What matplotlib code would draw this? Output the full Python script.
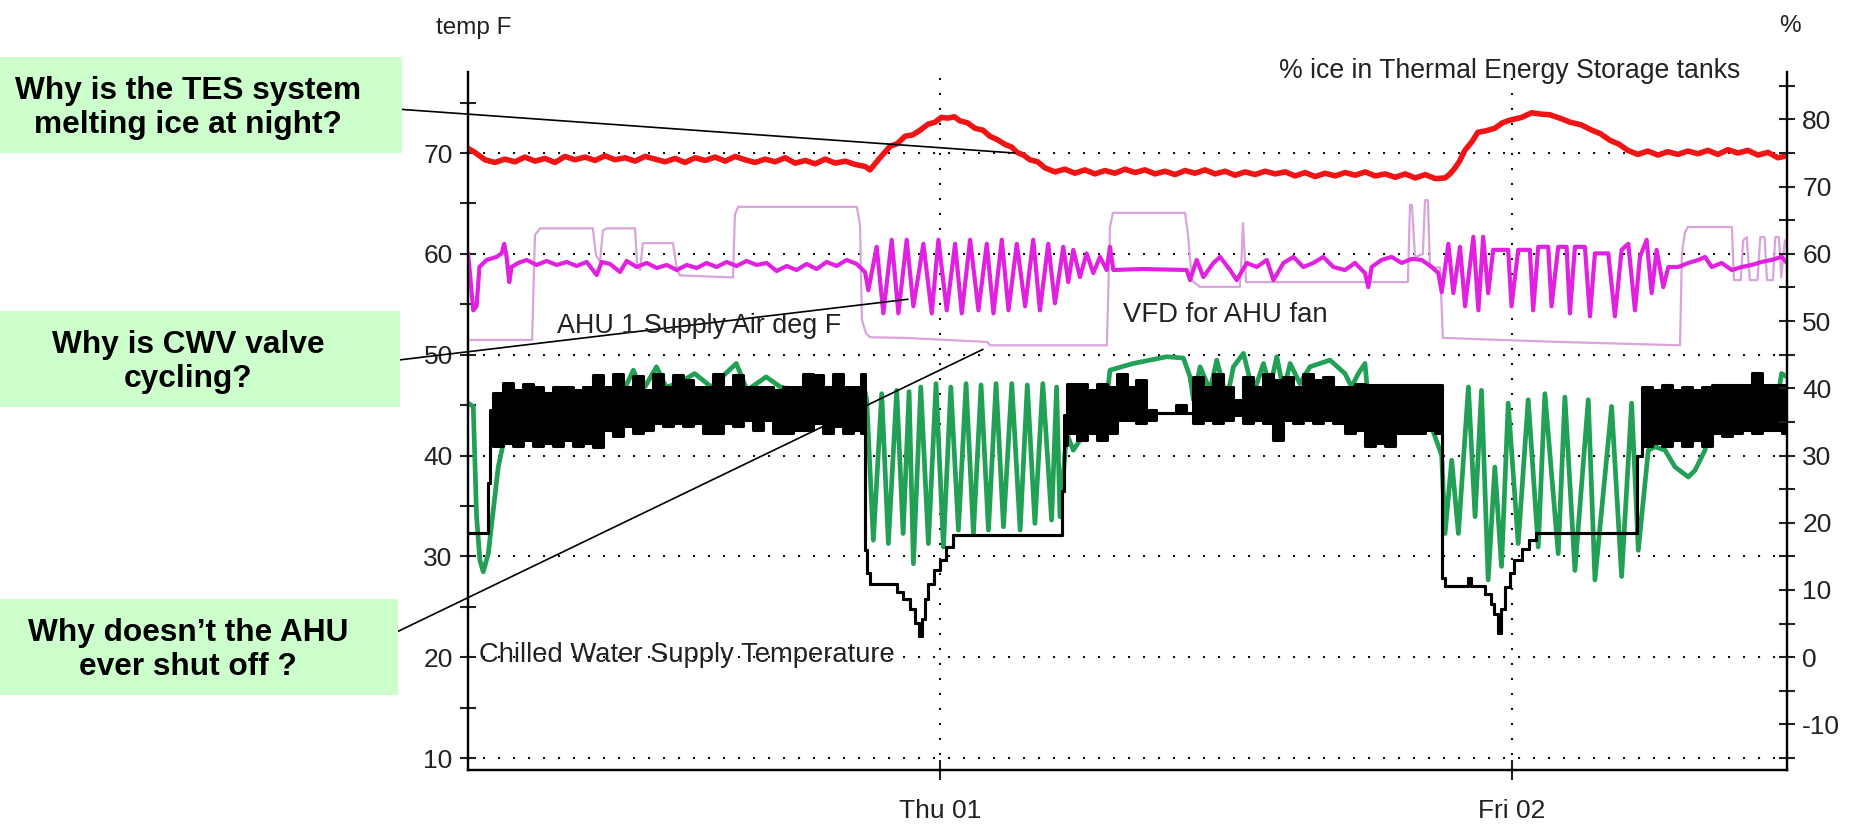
"""
AHU / TES trend log, annotated.
Recreates a BAS trend chart with three question call-outs.
"""

import matplotlib
matplotlib.use('Agg')
import matplotlib.pyplot as plt
from matplotlib.patches import Rectangle
from matplotlib.ticker import FixedLocator

plt.rcParams['font.family'] = ['Liberation Sans', 'DejaVu Sans']
plt.rcParams['axes.unicode_minus'] = False

# ---- data (time = hours since Wed 00:00) ----

# % ice in TES tanks (right axis)
tes_t = [4.19, 4.48, 4.90, 5.32, 5.74, 6.16, 6.58, 7.00, 7.42, 7.84, 8.26, 8.68, 9.10, 9.52, 9.94,
         10.36, 10.78, 11.20, 11.62, 12.04, 12.46, 12.88, 13.30, 13.72, 14.14, 14.56, 14.98, 15.40,
         15.82, 16.24, 16.66, 17.08, 17.50, 17.92, 18.34, 18.76, 19.18, 19.60, 20.02, 20.44, 20.86,
         21.06, 21.48, 21.90, 22.20, 22.53, 22.85, 23.16, 23.50, 23.79, 24.05, 24.33, 24.60, 24.83,
         25.15, 25.46, 25.80, 26.09, 26.40, 26.72, 27.00, 27.23, 27.50, 27.77, 28.10, 28.40, 28.82,
         29.24, 29.66, 30.08, 30.50, 30.92, 31.34, 31.76, 32.18, 32.60, 33.02, 33.44, 33.86, 34.28,
         34.70, 35.12, 35.54, 35.96, 36.38, 36.80, 37.22, 37.64, 38.06, 38.48, 38.90, 39.32, 39.74,
         40.16, 40.58, 41.00, 41.42, 41.84, 42.26, 42.68, 43.10, 43.52, 43.94, 44.36, 44.78, 45.19,
         45.40, 45.61, 45.80, 46.02, 46.30, 46.57, 46.90, 47.28, 47.60, 47.91, 48.40, 48.83, 49.20,
         49.59, 50.00, 50.43, 50.90, 51.35, 51.70, 52.11, 52.50, 52.86, 53.28, 53.70, 54.12, 54.54,
         54.96, 55.38, 55.80, 56.22, 56.64, 57.06, 57.48, 57.90, 58.32, 58.74, 59.16, 59.54]
tes_pct = [75.7, 75.1, 74.0, 73.6, 74.1, 73.7, 74.4, 73.8, 74.2, 73.6, 74.5, 74.0, 74.4, 73.9, 74.6,
           74.0, 74.3, 73.8, 74.5, 74.1, 73.7, 74.2, 73.6, 74.3, 73.9, 74.4, 73.8, 74.5,
           74.0, 73.6, 74.1, 73.7, 74.3, 73.5, 73.9, 73.4, 74.1, 73.5, 73.8, 73.3, 73.0,
           72.5, 74.3, 76.0, 76.4, 77.5, 77.7, 78.4, 79.3, 79.6, 80.3, 80.2, 80.4, 79.8,
           79.5, 78.7, 78.4, 77.5, 77.0, 76.3, 75.9, 75.1, 74.7, 74.0, 73.7, 72.8, 72.2,
           72.6, 72.0, 72.5, 71.9, 72.4, 72.0, 72.6, 72.1, 72.5, 71.9, 72.3, 71.8, 72.4,
           72.0, 72.5, 71.9, 72.3, 71.7, 72.2, 71.8, 72.3, 71.9, 72.2, 71.6, 72.1, 71.5,
           72.0, 71.6, 72.1, 71.7, 72.2, 71.6, 71.9, 71.4, 71.9, 71.3, 71.8, 71.2, 71.3,
           71.9, 72.8, 73.8, 75.4, 76.6, 78.1, 78.3, 78.7, 79.5, 79.9, 80.3, 81.0, 80.8,
           80.7, 80.2, 79.6, 79.2, 78.4, 77.9, 76.9, 76.3, 75.4, 74.8, 75.3, 74.7, 75.2,
           74.8, 75.3, 74.9, 75.4, 74.8, 75.5, 75.0, 75.4, 74.7, 75.1, 74.3, 74.6]

# VFD for AHU fan, % (right axis)
vfd_t = [4.19, 6.88, 7.00, 7.21, 9.43, 9.56, 9.73, 9.85, 10.02, 11.20, 11.28, 11.41, 11.53, 11.74,
         12.79, 12.96, 13.09, 15.31, 15.39, 15.52, 20.51, 20.64, 20.72, 20.89, 21.06, 22.53, 25.97,
         26.10, 31.00, 31.13, 31.25, 34.28, 34.40, 34.57, 34.90, 36.58, 36.66, 36.71, 36.78, 36.84,
         43.63, 43.72, 43.80, 43.93, 44.26, 44.35, 44.47, 44.56, 44.98, 45.10, 47.50, 50.00, 55.05,
         55.13, 55.25, 55.38, 57.23, 57.31, 57.60, 57.70, 57.85, 57.98, 58.30, 58.42, 58.60, 58.70,
         58.95, 59.05, 59.20, 59.30, 59.45, 59.54]
vfd_pct = [47.2, 47.2, 62.8, 63.8, 63.8, 59.8, 58.8, 63.5, 63.8, 63.8, 58.8, 57.6, 61.6, 61.6,
           61.6, 57.6, 56.8, 56.5, 65.8, 67.0, 67.0, 64.3, 50.2, 48.2, 47.6, 47.5, 46.9,
           46.4, 46.4, 64.0, 66.1, 66.1, 63.0, 56.0, 55.1, 55.1, 60.0, 64.6, 60.0, 55.8,
           55.8, 67.3, 67.3, 59.5, 60.0, 68.0, 68.0, 58.0, 58.0, 47.5, 47.2, 46.9, 46.4,
           60.0, 63.1, 64.0, 64.0, 56.1, 56.1, 62.0, 62.5, 56.1, 56.1, 62.5, 62.5, 56.1,
           56.1, 62.5, 62.5, 56.5, 62.0, 62.0]

# AHU 1 supply air, deg F (left axis)
sat_t = [4.19, 4.27, 4.41, 4.55, 4.67, 4.97, 5.39, 5.60, 5.71, 5.81, 5.92, 6.02, 6.30, 6.65, 7.07,
         7.49, 7.91, 8.33, 8.75, 9.17, 9.59, 9.80, 10.15, 10.57, 10.85, 11.27, 11.69, 12.11, 12.53,
         12.95, 13.37, 13.79, 14.20, 14.62, 15.04, 15.46, 15.88, 16.30, 16.72, 17.14, 17.56, 17.98,
         18.40, 18.82, 19.24, 19.66, 20.08, 20.50, 20.85, 20.99,
         21.34, 21.62, 21.97, 22.25, 22.60, 22.88, 23.30, 23.65, 23.93, 24.28, 24.63, 24.91, 25.26,
         25.61, 25.96, 26.24, 26.59, 26.87, 27.22, 27.57, 27.91, 28.19, 28.54, 28.82, 29.17, 29.38,
         29.59, 29.87, 30.15, 30.43, 30.71, 30.99, 31.13, 31.27, 32.50, 34.35, 34.49, 34.77, 35.05,
         35.47, 35.75, 36.17, 36.45, 36.87, 37.29, 37.71, 37.99, 38.41, 38.83, 39.24, 39.66, 40.08,
         40.50, 40.99, 41.41, 41.83, 41.97, 42.11, 42.53, 42.95, 43.37, 43.79, 44.21, 44.63, 44.91,
         45.05, 45.33, 45.54, 45.82, 46.03, 46.38, 46.59, 46.79, 47.00, 47.21, 47.84, 47.98, 48.26,
         48.75, 48.89, 49.10, 49.52, 49.66, 49.94, 50.29, 50.43, 50.64, 51.06, 51.27, 51.48, 52.04,
         52.32, 52.60, 52.88, 53.16, 53.37, 53.65, 53.86, 54.07, 54.35, 54.56, 54.98, 55.40, 55.82,
         56.10, 56.38, 56.80, 57.22, 57.64, 58.06, 58.48, 58.89, 59.31, 59.54]
sat_f = [60.0, 58.1, 54.4, 54.8, 58.7, 59.4, 59.7, 60.05, 61.0, 59.7, 57.2, 58.7, 59.1, 59.4, 58.9,
         59.3, 58.9, 59.2, 58.8, 59.2, 57.9, 59.2, 59.0, 58.2, 59.3, 58.7, 59.1, 58.6, 58.9,
         58.4, 58.9, 58.6, 59.1, 58.7, 59.2, 58.8, 59.3, 58.9, 59.1, 58.3, 58.8, 58.4,
         59.0, 58.5, 59.2, 58.8, 59.4, 59.0, 58.2, 56.4,
         60.7, 54.1, 61.4, 54.1, 61.4, 54.8, 61.0, 54.1, 61.4, 54.4, 61.0, 54.1, 61.4,
         54.4, 61.0, 54.1, 61.4, 54.4, 61.0, 54.8, 61.4, 54.4, 61.0, 55.1, 60.7, 57.2,
         60.4, 57.7, 60.05, 58.1, 59.7, 58.4, 60.7, 58.4, 58.5, 58.4, 57.4, 59.4, 57.7,
         59.1, 59.7, 58.4, 57.4, 59.1, 58.7, 59.4, 57.4, 59.1, 59.7, 58.7, 59.1, 59.7,
         58.7, 58.4, 59.1, 58.1, 56.7, 58.7, 59.4, 59.7, 59.1, 59.5, 59.4, 58.7, 58.1,
         56.2, 61.0, 56.1, 60.7, 54.8, 61.7, 54.4, 61.7, 56.1, 60.4, 60.4, 54.8, 60.4,
         60.4, 54.4, 60.7, 60.7, 54.8, 60.7, 60.7, 54.1, 60.7, 60.7, 53.8, 60.05, 60.05,
         53.8, 60.4, 61.0, 54.4, 59.7, 61.4, 56.1, 60.4, 56.7, 58.7, 58.7, 59.1, 59.4,
         59.7, 58.7, 59.1, 58.4, 58.7, 58.9, 59.2, 59.4, 59.7, 59.1]

# chilled water valve, % (right axis)
cwv_t = [4.19, 4.41, 4.55, 4.69, 4.83, 5.04, 5.25, 5.46, 5.67, 6.50, 8.00, 9.50, 10.50, 11.13,
         11.50, 12.10, 12.50, 13.00, 13.70, 14.40, 15.45, 15.90, 16.70, 17.30, 18.50, 20.00, 20.85,
         20.92, 21.20, 21.55, 21.83, 22.18, 22.45, 22.70, 22.88, 23.19, 23.51, 23.83, 24.14, 24.45,
         24.77, 25.09, 25.40, 25.72, 26.03, 26.35, 26.66, 27.01, 27.36, 27.66, 27.98, 28.31, 28.68,
         28.89, 29.03, 29.31, 29.59, 29.87, 30.43, 30.99, 31.13, 32.11, 32.81, 33.51, 34.21, 34.49,
         34.63, 34.91, 35.33, 35.61, 36.03, 36.31, 36.73, 37.15, 37.57, 37.85, 38.13, 38.41, 38.69,
         39.10, 39.52, 39.94, 40.36, 40.99, 41.27, 41.55, 41.83, 41.97, 42.40, 43.50, 44.50, 45.05,
         45.19, 45.47, 45.75, 46.17, 46.45, 46.72, 47.00, 47.28, 47.56, 47.84, 48.26, 48.68, 49.10,
         49.38, 49.94, 50.22, 50.64, 51.20, 51.48, 52.18, 52.60, 53.02, 53.30, 53.51, 53.72, 54.00,
         54.42, 54.84, 55.40, 55.68, 56.10, 56.24, 57.50, 59.03, 59.31, 59.54]
cwv_pct = [37.8, 37.3, 20.9, 14.4, 12.7, 15.4, 21.9, 28.3, 31.8, 34.5, 35.5, 36.5, 38.0, 42.7,
           39.5, 43.2, 40.2, 40.7, 42.2, 40.2, 43.7, 39.7, 41.7, 40.2, 39.2, 39.2, 39.5,
           38.3, 17.4, 39.2, 16.9, 39.7, 18.4, 39.5, 13.9, 40.2, 16.9, 40.7, 16.4, 40.2,
           18.9, 40.7, 18.4, 40.5, 18.9, 40.7, 19.4, 40.7, 18.9, 40.5, 19.9, 40.7, 20.4,
           40.2, 20.9, 33.3, 30.8, 32.3, 35.3, 38.3, 42.7, 43.7, 44.2, 44.7, 44.5, 41.7,
           38.3, 43.2, 39.7, 44.2, 38.3, 43.2, 45.2, 39.2, 43.7, 40.2, 44.7, 39.7, 43.7,
           40.7, 43.2, 43.7, 44.2, 42.2, 40.2, 42.2, 43.7, 38.3, 35.8, 36.0, 35.5, 30.0,
           18.4, 29.3, 18.4, 40.2, 20.9, 39.7, 11.5, 28.3, 13.5, 37.8, 16.9, 38.3, 16.4,
           39.2, 15.4, 38.7, 12.9, 38.3, 11.5, 37.3, 12.0, 37.8, 15.9, 23.4, 30.8, 31.3,
           30.8, 28.3, 26.8, 27.8, 30.8, 33.3, 35.8, 35.8, 42.2, 41.7]

# chilled water supply temperature, deg F (left axis) - low/high of each log interval
chw_t = [4.19, 5.03, 5.10, 5.25, 5.67, 6.09, 6.51, 6.93, 7.35, 7.77, 8.19, 8.61, 9.03, 9.45, 9.87,
         10.29, 10.71, 11.13, 11.55, 11.97, 12.39, 12.80, 13.22, 13.64, 14.06, 14.48, 14.90, 15.32,
         15.74, 16.16, 16.58, 17.00, 17.42, 17.84, 18.26, 18.68, 19.10, 19.52, 19.94, 20.36, 20.70,
         20.85, 20.93, 21.06, 22.19, 22.45, 22.74, 22.95, 23.12, 23.25, 23.35, 23.50, 23.75, 24.00,
         24.25, 24.55, 29.03, 29.10, 29.20, 29.31, 29.73, 30.15, 30.57, 30.99, 31.41, 31.83, 32.24,
         32.66, 33.08, 33.50, 33.92, 34.34, 34.62, 35.04, 35.46, 35.88, 36.30, 36.72, 37.14, 37.56,
         37.98, 38.40, 38.82, 39.24, 39.66, 40.08, 40.50, 40.99, 41.41, 41.83, 42.25, 42.67, 43.09,
         43.51, 43.93, 44.35, 44.76, 45.05, 45.19, 46.16, 46.30, 46.86, 47.10, 47.25, 47.40, 47.55,
         47.70, 47.90, 48.10, 48.40, 48.70, 49.00, 53.16, 53.25, 53.44, 53.86, 54.28, 54.70, 55.12,
         55.54, 55.96, 56.38, 56.80, 57.22, 57.64, 58.06, 58.48, 58.89, 59.31, 59.54]
chw_lo = [32.3, 37.3, 41.0, 40.9, 41.2, 40.9, 41.5, 40.9, 41.2, 40.9, 41.5, 40.9, 41.2, 40.8, 42.5,
          41.9, 42.9, 42.2, 42.5, 43.2, 42.9, 43.2, 42.9, 43.2, 42.2, 42.2, 43.2, 42.9,
          43.5, 42.5, 43.5, 42.2, 42.2, 42.5, 42.5, 43.2, 42.2, 42.9, 42.2, 42.5, 42.2,
          30.6, 28.3, 27.3, 26.5, 25.8, 24.8, 23.4, 22.1, 23.8, 25.8, 27.3, 28.6, 29.6,
          30.9, 32.1, 32.1, 36.5, 41.0, 42.2, 41.5, 42.2, 41.5, 42.2, 43.5, 43.5, 43.2,
          43.5, 44.2, 44.2, 44.2, 44.2, 43.2, 43.5, 43.2, 43.5, 44.0, 43.2, 43.5, 43.2,
          41.5, 43.5, 43.2, 43.5, 43.2, 43.5, 43.2, 42.2, 42.5, 40.9, 41.2, 40.9, 42.2,
          42.2, 42.2, 42.5, 42.2, 27.9, 27.1, 27.9, 27.1, 26.3, 25.3, 24.3, 22.4, 24.8,
          27.0, 28.3, 29.6, 30.7, 31.6, 32.3, 32.3, 40.0, 40.9, 41.2, 40.9, 41.5, 40.9,
          41.5, 40.9, 42.2, 41.9, 42.2, 42.5, 42.2, 42.5, 42.5, 42.2, 42.2]
chw_hi = [32.3, 37.3, 44.5, 46.2, 47.2, 46.5, 47.1, 46.8, 46.2, 46.8, 46.8, 46.5, 46.8, 48.0, 46.8,
          48.1, 46.8, 47.9, 46.5, 48.1, 46.8, 48.0, 47.5, 46.8, 46.8, 48.1, 46.8, 48.0,
          46.8, 46.8, 46.8, 46.5, 46.8, 46.8, 48.1, 48.0, 46.8, 48.1, 46.8, 46.8, 48.1,
          30.6, 28.3, 27.3, 26.5, 25.8, 24.8, 23.4, 22.1, 23.8, 25.8, 27.3, 28.6, 29.6,
          30.9, 32.1, 32.1, 36.5, 44.0, 47.1, 47.1, 46.5, 47.1, 46.8, 48.1, 46.8, 47.5,
          44.5, 44.2, 44.2, 45.0, 44.2, 47.8, 46.8, 48.1, 46.8, 45.5, 47.8, 46.8, 48.1,
          47.5, 47.8, 46.8, 48.1, 47.5, 47.8, 46.8, 46.8, 47.1, 47.0, 47.0, 47.0, 47.0,
          47.0, 47.0, 47.0, 47.0, 27.9, 27.1, 27.9, 27.1, 26.3, 25.3, 24.3, 22.4, 24.8,
          27.0, 28.3, 29.6, 30.7, 31.6, 32.3, 32.3, 40.0, 46.8, 46.5, 47.0, 46.5, 46.8,
          46.5, 46.8, 47.0, 47.0, 47.0, 47.0, 48.2, 47.0, 47.0, 47.0, 47.0]

# axis ticks
temp_ticks = [10, 20, 30, 40, 50, 60, 70]
temp_minor = [15, 25, 35, 45, 55, 65, 75]
pct_ticks = [-10, 0, 10, 20, 30, 40, 50, 60, 70, 80]
pct_minor = [-15, -5, 5, 15, 25, 35, 45, 55, 65, 75, 85]
day_ticks = [24, 48]
day_labels = ['Thu 01', 'Fri 02']

# call-outs: question text, target point, axis of the target
questions = ['Why is the TES system\nmelting ice at night?',
             'Why is CWV valve\ncycling?',
             'Why doesn\u2019t the AHU\never shut off ?']
targets = [(27.14, 75.0), (22.65, 55.5), (25.80, 45.8)]
target_axis = ['pct', 'temp', 'pct']

# ---- figure ----
W, H = 1854, 826
fig = plt.figure(figsize=(W / 100, H / 100), dpi=100)


def fx(px):
    return px / W


def fy(py):
    return 1 - py / H


ax = fig.add_axes([fx(468), fy(770), (1787 - 468) / W, (770 - 72) / H])
ax2 = ax.twinx()

t_min, t_max = 4.19, 59.54
temp_min, temp_max = 8.81, 78.04
ax.set_xlim(t_min, t_max)
ax.set_ylim(temp_min, temp_max)
# the % scale is tied to the temp scale: 0 % on 20 F, 15 % per 10 F
ax2.set_ylim(1.5 * (temp_min - 20), 1.5 * (temp_max - 20))

pct = ax2.transData
ax.plot(vfd_t, vfd_pct, color='#D9A3DC', lw=1.6, transform=pct, zorder=2)
ax.plot(cwv_t, cwv_pct, color='#22A055', lw=3.4, transform=pct, zorder=3)
ax.fill_between(chw_t, chw_lo, chw_hi, step='post', color='black', lw=0, zorder=4)
ax.plot(chw_t, chw_lo, drawstyle='steps-post', color='black', lw=2.2, zorder=4)
ax.plot(chw_t, chw_hi, drawstyle='steps-post', color='black', lw=2.2, zorder=4)
ax.plot(sat_t, sat_f, color='#E022E0', lw=3.0, zorder=5)
ax.plot(tes_t, tes_pct, color='#F01414', lw=4.0, transform=pct, zorder=6)

ax.set_xlim(t_min, t_max)
ax.set_ylim(temp_min, temp_max)

# grid + axes look
ax.set_axisbelow(True)
ax.grid(True, which='major', color='#111111', linestyle=(0, (1, 6.2)), linewidth=1.5)
for a in (ax, ax2):
    a.spines['top'].set_visible(False)
    for s in ('left', 'right', 'bottom'):
        a.spines[s].set_linewidth(1.6)

ax.set_xticks(day_ticks)
ax.set_xticklabels(day_labels)
ax.yaxis.set_major_locator(FixedLocator(temp_ticks))
ax.yaxis.set_minor_locator(FixedLocator(temp_minor))
ax2.yaxis.set_major_locator(FixedLocator(pct_ticks))
ax2.yaxis.set_minor_locator(FixedLocator(pct_minor))

ax.tick_params(axis='x', direction='inout', length=14, width=1.5, pad=14,
               labelsize=19, colors='#222222')
ax.tick_params(axis='y', which='both', direction='inout', length=12, width=1.5, pad=5,
               labelsize=19, colors='#222222')
ax2.tick_params(axis='y', which='both', direction='inout', length=12, width=1.5, pad=5,
                labelsize=19, colors='#222222')

# chart texts
txt = dict(color='#222222')
fig.text(fx(474), fy(28), 'temp F', ha='center', va='center', fontsize=17.5, **txt)
fig.text(fx(1790), fy(26), '%', ha='center', va='center', fontsize=17.5, **txt)
fig.text(fx(1740), fy(71), '% ice in Thermal Energy Storage tanks', ha='right', va='center',
         fontsize=19.2, **txt)
fig.text(fx(557), fy(326), 'AHU 1 Supply Air deg F', ha='left', va='center', fontsize=19.4, **txt)
fig.text(fx(1123), fy(315), 'VFD for AHU fan', ha='left', va='center', fontsize=19.8, **txt)
fig.text(fx(479), fy(655), 'Chilled Water Supply Temperature', ha='left', va='center',
         fontsize=19.7, **txt)

# call-out boxes on the left
boxes = [(57, 153, 402), (311, 407, 400), (599, 695, 398)]
starts = [(382, 108), (382, 362), (376, 642)]
for (top, bottom, right), q in zip(boxes, questions):
    fig.patches.append(Rectangle((0, fy(bottom)), fx(right), (bottom - top) / H,
                                 transform=fig.transFigure, facecolor='#CCFFCC',
                                 edgecolor='none', zorder=0))
    first, second = q.split('\n')
    base = top + 0.44 * (bottom - top)
    fig.text(fx(188), fy(base), first, ha='center', va='baseline', fontsize=22.8,
             fontweight='bold')
    fig.text(fx(188), fy(base + 34), second, ha='center', va='baseline', fontsize=22.8,
             fontweight='bold')

for (sx, sy), xy, which in zip(starts, targets, target_axis):
    trans = ax2.transData if which == 'pct' else ax.transData
    ax2.annotate('', xy=xy, xycoords=trans, xytext=(sx, H - sy), textcoords='figure pixels',
                 arrowprops=dict(arrowstyle='-', color='black', lw=1.2,
                                 shrinkA=0, shrinkB=0),
                 annotation_clip=False, zorder=10)

fig.savefig('out.png', dpi=100)
